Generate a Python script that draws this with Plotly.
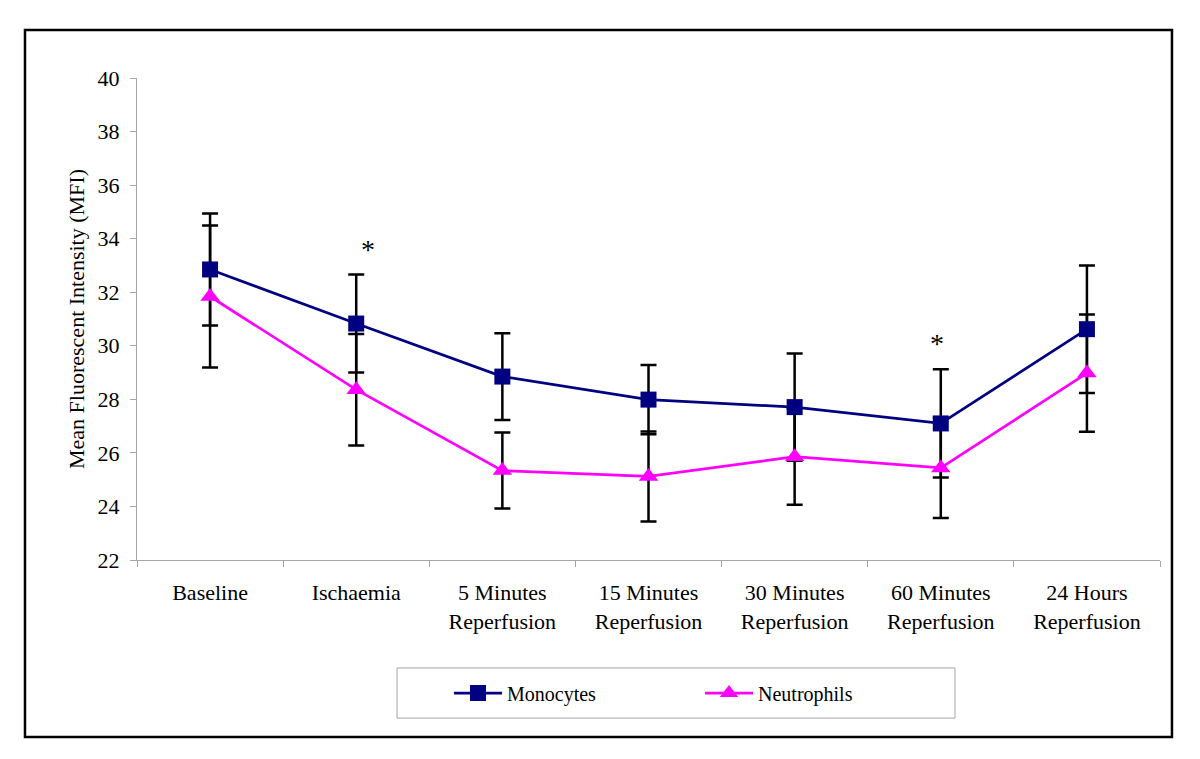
import plotly.graph_objects as go

# Time points (x categories)
time_points = [
    "Baseline",
    "Ischaemia",
    "5 Minutes<br>Reperfusion",
    "15 Minutes<br>Reperfusion",
    "30 Minutes<br>Reperfusion",
    "60 Minutes<br>Reperfusion",
    "24 Hours<br>Reperfusion",
]

# Mean fluorescent intensity per cell type
monocytes = [32.85, 30.83, 28.85, 27.99, 27.71, 27.1, 30.62]
monocytes_err = [2.09, 1.83, 1.62, 1.29, 2.0, 2.02, 2.38]

neutrophils = [31.84, 28.36, 25.34, 25.12, 25.86, 25.44, 28.98]
neutrophils_err = [2.65, 2.08, 1.42, 1.68, 1.8, 1.87, 2.19]

# Significance markers
star_points = ["Ischaemia", "60 Minutes<br>Reperfusion"]
star_values = [33.58, 30.08]
star_shifts = [12, -4]

COLORS = {
    'monocytes': '#000080',
    'neutrophils': '#FF00FF',
    'axis': '#A6A6A6',
}
FONT = "Liberation Serif, Times New Roman, serif"

fig = go.Figure()

# Error bars first so lines and markers sit on top
for vals, errs in [(monocytes, monocytes_err), (neutrophils, neutrophils_err)]:
    fig.add_trace(go.Scatter(
        x=time_points, y=vals, mode='markers',
        marker=dict(size=1, color='rgba(0,0,0,0)'),
        error_y=dict(type='data', array=errs, visible=True,
                     color='black', thickness=2.5, width=8),
        showlegend=False, hoverinfo='skip'
    ))

fig.add_trace(go.Scatter(
    x=time_points, y=monocytes, mode='lines+markers', name='Monocytes',
    line=dict(color=COLORS['monocytes'], width=2.7),
    marker=dict(symbol='square', size=16, color=COLORS['monocytes'])
))
fig.add_trace(go.Scatter(
    x=time_points, y=neutrophils, mode='lines+markers', name='Neutrophils',
    line=dict(color=COLORS['neutrophils'], width=2.7),
    marker=dict(symbol='triangle-up', size=17, color=COLORS['neutrophils'])
))

# Asterisks
for xp, yv, sh in zip(star_points, star_values, star_shifts):
    fig.add_annotation(x=xp, y=yv, text="*", showarrow=False, xshift=sh,
                       yanchor='middle', font=dict(size=28, color='black', family=FONT))

fig.update_xaxes(
    range=[-0.5, 6.5],
    showline=True, linecolor=COLORS['axis'], linewidth=1,
    ticks='outside', tickson='boundaries', ticklen=6, tickcolor=COLORS['axis'],
    ticklabelstandoff=13,
    showgrid=False, tickfont=dict(size=22, color='black', family=FONT)
)
fig.update_yaxes(
    range=[22, 40], dtick=2, showline=True, linecolor=COLORS['axis'], linewidth=1,
    ticks='outside', ticklen=6, tickcolor=COLORS['axis'], showgrid=False, zeroline=False,
    ticklabelstandoff=6,
    tickfont=dict(size=22, color='black', family=FONT),
    title=dict(text="Mean Fluorescent Intensity (MFI)", standoff=6,
               font=dict(size=22, color='black', family=FONT))
)

# Page body adds an 8px offset at top/left, so the figure is sized to compensate
fig.update_layout(
    width=1192, height=751,
    margin=dict(l=129, r=40, t=70, b=199),
    plot_bgcolor='white', paper_bgcolor='white',
    legend=dict(
        orientation='h', x=0.3050, y=-0.276, xanchor='left', yanchor='middle',
        entrywidth=188, itemwidth=48, bgcolor='rgba(0,0,0,0)',
        font=dict(size=20, color='black', family=FONT)
    ),
    shapes=[
        # outer frame
        dict(type='rect', xref='paper', yref='paper',
             x0=-0.1095, x1=1.0117, y0=-0.367, y1=1.0996,
             line=dict(color='black', width=2.5)),
        # legend box
        dict(type='rect', xref='paper', yref='paper',
             x0=0.2542, x1=0.7996, y0=-0.328, y1=-0.224,
             line=dict(color=COLORS['axis'], width=1)),
    ]
)

fig.write_html("out.html")
